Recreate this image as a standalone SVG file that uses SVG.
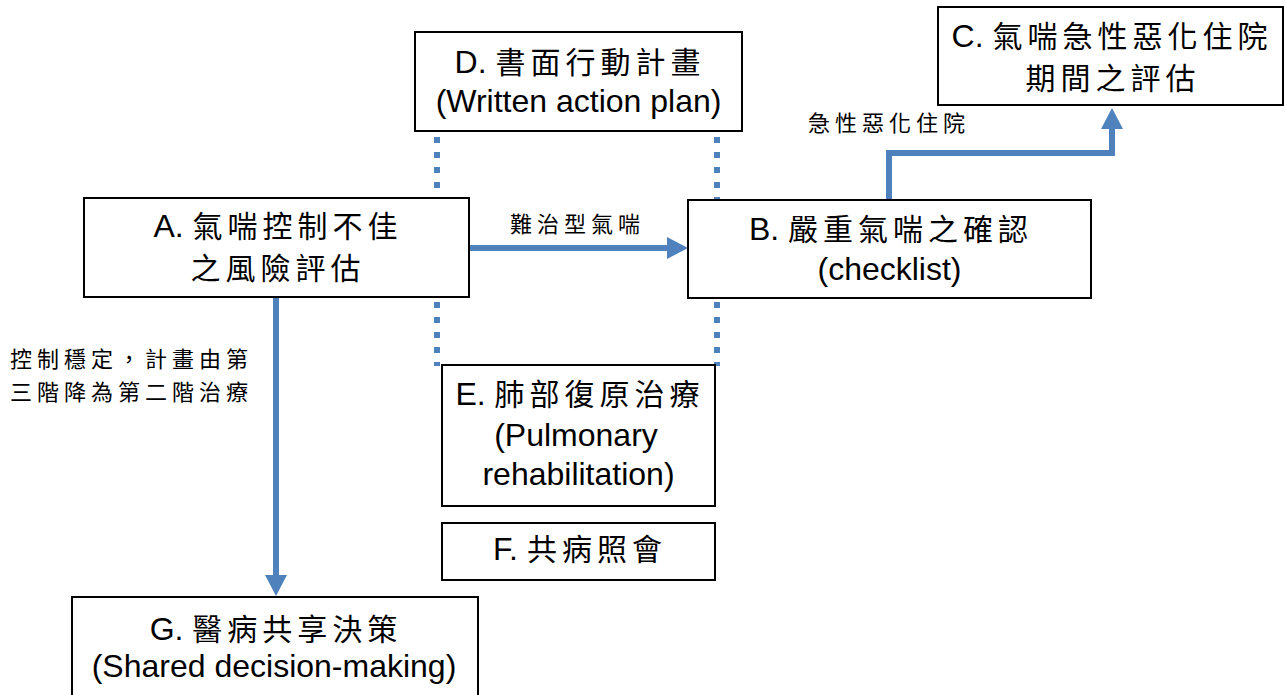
<svg xmlns="http://www.w3.org/2000/svg" width="1285" height="695" viewBox="0 0 1285 695">
<style>
.box{fill:#fff;stroke:#000;stroke-width:2}
.t{font-family:"Liberation Sans","Noto Sans CJK TC",sans-serif;font-size:32px;fill:#000;text-anchor:middle}
.cj{font-family:"Noto Sans CJK TC",sans-serif;font-size:30px;letter-spacing:5px}
.lbl{font-family:"Noto Sans CJK TC",sans-serif;font-size:22px;letter-spacing:5px;fill:#000}
.conn{fill:none;stroke:#4F81BD;stroke-width:6}
.dot{fill:none;stroke:#4F81BD;stroke-width:6;stroke-dasharray:6 9}
</style>
<defs>
<marker id="ah" markerUnits="userSpaceOnUse" markerWidth="22" markerHeight="22" refX="11" refY="11" orient="auto" viewBox="0 0 22 22">
<path d="M0,0 L21,11 L0,22 z" fill="#4F81BD"/>
</marker>
</defs>
<rect width="1285" height="695" fill="#fff"/>
<g id="connectors">
<line class="dot" x1="437" y1="137" x2="437" y2="366"/>
<line class="dot" x1="717" y1="137" x2="717" y2="366"/>
<line class="conn" x1="469" y1="248" x2="678" y2="248" marker-end="url(#ah)"/>
<line class="conn" x1="276" y1="297" x2="276" y2="586" marker-end="url(#ah)"/>
<polyline class="conn" points="889,200 889,153 1112,153 1112,118" stroke-linejoin="miter" marker-end="url(#ah)"/>
<text class="lbl" x="510" y="232">難治型氣喘</text>
<text class="lbl" x="808" y="131">急性惡化住院</text>
<text class="lbl" x="10" y="367">控制穩定，計畫由第</text>
<text class="lbl" x="10" y="400">三階降為第二階治療</text>
</g>
<g id="nodeA">
<rect class="box" x="84" y="198" width="385" height="99"/>
<text class="t" x="278" y="237">A. <tspan class="cj">氣喘控制不佳</tspan></text>
<text class="t" x="278" y="279"><tspan class="cj">之風險評估</tspan></text>
</g>
<g id="nodeD">
<rect class="box" x="415" y="32" width="327" height="99"/>
<text class="t" x="580" y="73">D. <tspan class="cj">書面行動計畫</tspan></text>
<text class="t" x="578.5" y="112">(Written action plan)</text>
</g>
<g id="nodeB">
<rect class="box" x="688" y="200" width="403" height="98"/>
<text class="t" x="891" y="240">B. <tspan class="cj">嚴重氣喘之確認</tspan></text>
<text class="t" x="889.5" y="280">(checklist)</text>
</g>
<g id="nodeC">
<rect class="box" x="938" y="7" width="345" height="98"/>
<text class="t" x="1112" y="47">C. <tspan class="cj">氣喘急性惡化住院</tspan></text>
<text class="t" x="1113" y="89"><tspan class="cj">期間之評估</tspan></text>
</g>
<g id="nodeE">
<rect class="box" x="442" y="365" width="273" height="141"/>
<text class="t" x="580" y="405">E. <tspan class="cj">肺部復原治療</tspan></text>
<text class="t" x="576" y="446">(Pulmonary</text>
<text class="t" x="578.5" y="485">rehabilitation)</text>
</g>
<g id="nodeF">
<rect class="box" x="442" y="523" width="273" height="57"/>
<text class="t" x="580" y="560">F. <tspan class="cj">共病照會</tspan></text>
</g>
<g id="nodeG">
<rect class="box" x="72" y="597" width="406" height="110"/>
<text class="t" x="276" y="640">G. <tspan class="cj">醫病共享決策</tspan></text>
<text class="t" x="274" y="677">(Shared decision-making)</text>
</g>
</svg>
